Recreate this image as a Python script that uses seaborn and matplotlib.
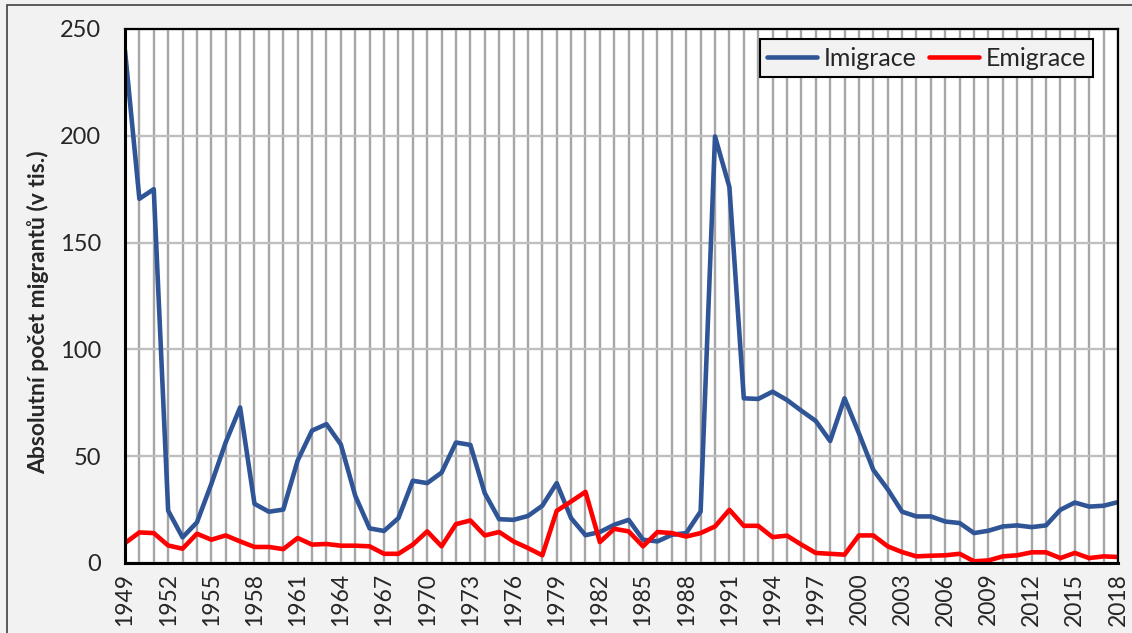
import matplotlib
matplotlib.use("Agg")
import matplotlib.pyplot as plt
import seaborn as sns
import pandas as pd
from matplotlib.patches import Rectangle

# Data (v tis.)
years = list(range(1949, 2019))

imigrace = [240, 170.5, 175, 24.5, 12, 19, 37, 56.5, 72.8, 27.7, 24, 25,
            48, 62, 65, 55.5, 31.5, 16.2, 15, 21, 38.5, 37.4, 42.3, 56.4,
            55.3, 32.7, 20.5, 20.2, 22, 26.8, 37.4, 21, 13, 14.5, 17.9, 20.2,
            10.9, 10.1, 13.2, 14, 24.1, 199.7, 176, 77.1, 76.8, 80.2, 76.3, 71.3,
            66.5, 57.1, 77.1, 60.7, 43.6, 34.5, 24, 21.8, 21.8, 19.4, 18.7, 14,
            15.1, 17.1, 17.6, 16.8, 17.6, 24.9, 28.3, 26.4, 26.8, 28.5]

emigrace = [9.3, 14.3, 14, 8.2, 6.7, 13.7, 10.9, 12.9, 10.1, 7.5, 7.5, 6.5,
            11.7, 8.6, 8.9, 8.1, 8.1, 7.8, 4.3, 4.3, 8.6, 14.8, 7.8, 18.2,
            19.9, 12.9, 14.5, 10.1, 7, 3.6, 24.4, 28.8, 33.3, 9.8, 16, 14.8,
            7.8, 14.5, 14, 12.4, 14, 17.1, 24.9, 17.4, 17.4, 12.1, 12.8, 8.6,
            4.7, 4.3, 3.9, 12.9, 12.9, 7.8, 5.1, 3.1, 3.4, 3.6, 4.3, 0.8,
            1.2, 3.1, 3.6, 5, 5, 2.3, 4.7, 2.3, 3.1, 2.8]

series_names = ["Imigrace", "Emigrace"]
tick_years = list(range(1949, 2019, 3))
y_ticks = [0, 50, 100, 150, 200, 250]

df = pd.DataFrame({
    "rok": years * 2,
    "pocet": imigrace + emigrace,
    "typ": [series_names[0]] * len(years) + [series_names[1]] * len(years),
})

sns.set_theme(style="white")
plt.rcParams["font.family"] = ["Lato", "DejaVu Sans"]

fig = plt.figure(figsize=(11.32, 6.33), dpi=100)
fig.patch.set_facecolor("#F2F2F2")
ax = fig.add_axes([0.1104, 0.1106, 0.8772, 0.8436])
ax.set_facecolor("white")

# ramecek grafu
fig.patches.append(Rectangle((7 / 1132, -0.1), 1.2, 1 - 5 / 633 + 0.1,
                             transform=fig.transFigure, fill=False,
                             edgecolor="#404040", linewidth=1.2, zorder=0))

sns.lineplot(data=df, x="rok", y="pocet", hue="typ", ax=ax,
             palette={"Imigrace": "#2F5597", "Emigrace": "#FF0000"},
             linewidth=3.3, legend=True)

ax.set_xlim(1949, 2018)
ax.set_ylim(0, 250)
ax.set_xticks(tick_years)
ax.set_xticks(years, minor=True)
ax.set_yticks(y_ticks)
ax.set_xticklabels([str(y) for y in tick_years], rotation=90, fontsize=16.5)
ax.tick_params(axis="y", labelsize=17, length=0, pad=17)
ax.tick_params(axis="x", which="both", length=0, pad=7)

ax.grid(True, axis="x", which="both", color="#A6A6A6", linewidth=1.7, zorder=0)
ax.grid(True, axis="y", which="major", color="#BFBFBF", linewidth=1.7, zorder=0)
ax.set_axisbelow(True)

for side in ["left", "bottom"]:
    ax.spines[side].set_color("black")
    ax.spines[side].set_linewidth(2.2)
for side in ["top", "right"]:
    ax.spines[side].set_color("black")
    ax.spines[side].set_linewidth(1.6)

ax.set_xlabel("")
ax.set_ylabel("Absolutní počet migrantů (v tis.)", fontsize=16.5, fontweight="bold")
ax.yaxis.set_label_coords(-0.0765, 0.47)

leg = ax.legend(loc="upper right", ncol=2, fontsize=18, frameon=True,
                fancybox=False, handlelength=2.0, columnspacing=0.5,
                handletextpad=0.25, borderpad=0.3, borderaxespad=0,
                bbox_to_anchor=(0.975, 0.981))
leg.get_frame().set_facecolor("#F2F2F2")
leg.get_frame().set_edgecolor("black")
leg.get_frame().set_linewidth(1.5)
leg.get_frame().set_alpha(1)

fig.savefig("out.png", dpi=100, facecolor=fig.get_facecolor())
